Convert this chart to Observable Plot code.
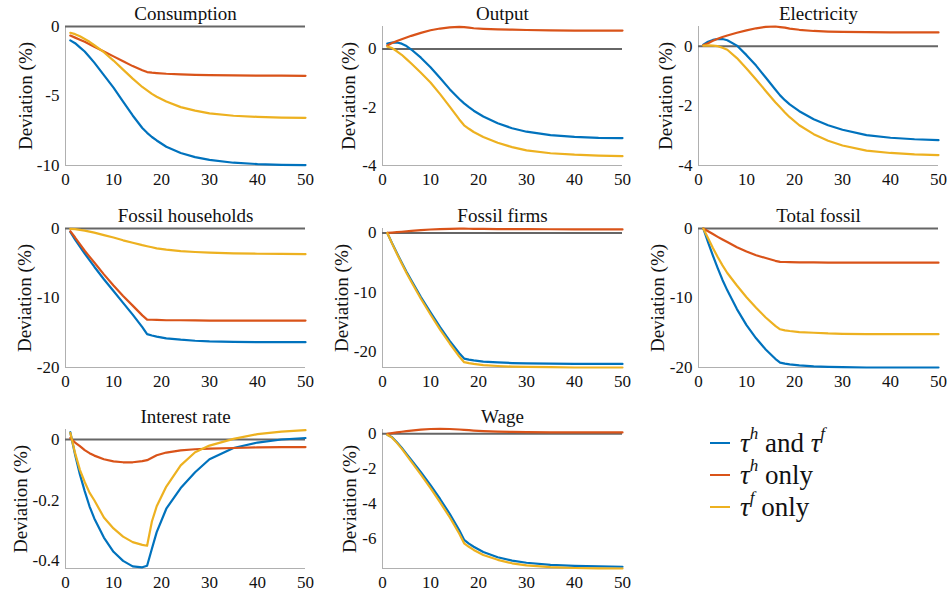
<!DOCTYPE html>
<html><head><meta charset="utf-8">
<script src="https://cdn.jsdelivr.net/npm/d3@7"></script>
<script src="https://cdn.jsdelivr.net/npm/@observablehq/plot@0.6"></script>
<style>
body{margin:0;background:#fff;}
#root{position:relative;width:950px;height:594px;overflow:hidden;font-family:"Liberation Serif","DejaVu Serif","Tinos","Noto Serif","FreeSerif","Times New Roman",serif;color:#111;}
.panel{position:absolute;}
.legend{position:absolute;left:710px;top:427px;font-family:"Liberation Serif","DejaVu Serif","Tinos","Noto Serif","FreeSerif","Times New Roman",serif;font-size:27px;color:#111;}
.legend .row{display:flex;align-items:center;height:32px;white-space:nowrap;}
.legend .sw{display:inline-block;width:20px;height:2px;margin-right:10px;}
.legend i{font-style:italic;}
.legend sup{font-size:17px;font-style:italic;position:relative;top:-3px;}
</style></head><body><div id="root"></div>
<script>
// periods
const t = [1,2,3,4,5,6,8,10,12,14,16,17,18,19,21,24,27,30,35,40,45,50];
const seriesNames = ["both","tauH","tauF"];
const seriesColors = ["#0072BD","#D95319","#EDB120"];
const panelTitles = ["Consumption","Output","Electricity","Fossil households","Fossil firms","Total fossil","Interest rate","Wage"];
const xTicks = [0,10,20,30,40,50];

const consBoth = [-1.0,-1.2,-1.5,-1.8,-2.2,-2.6,-3.5,-4.4,-5.4,-6.4,-7.3,-7.65,-7.95,-8.2,-8.65,-9.1,-9.4,-9.6,-9.8,-9.9,-9.95,-9.97];
const consTauH = [-0.65,-0.8,-0.95,-1.1,-1.27,-1.45,-1.8,-2.15,-2.5,-2.85,-3.15,-3.28,-3.32,-3.35,-3.4,-3.45,-3.48,-3.5,-3.52,-3.53,-3.54,-3.55];
const consTauF = [-0.45,-0.55,-0.7,-0.9,-1.1,-1.35,-1.85,-2.45,-3.1,-3.75,-4.35,-4.6,-4.85,-5.05,-5.4,-5.8,-6.05,-6.25,-6.42,-6.5,-6.55,-6.57];

const outBoth = [0.18,0.22,0.22,0.18,0.1,-0.02,-0.3,-0.63,-1.0,-1.38,-1.72,-1.87,-2.0,-2.12,-2.32,-2.55,-2.72,-2.84,-2.96,-3.02,-3.05,-3.06];
const outTauH = [0.12,0.2,0.27,0.33,0.39,0.45,0.55,0.64,0.7,0.74,0.76,0.75,0.73,0.71,0.69,0.67,0.66,0.65,0.64,0.63,0.63,0.63];
const outTauF = [0.08,0.03,-0.08,-0.2,-0.35,-0.5,-0.82,-1.15,-1.55,-1.98,-2.42,-2.62,-2.74,-2.85,-3.02,-3.22,-3.37,-3.48,-3.58,-3.63,-3.66,-3.68];

const elecBoth = [0.05,0.15,0.21,0.24,0.24,0.2,0.02,-0.3,-0.65,-1.05,-1.45,-1.65,-1.81,-1.95,-2.18,-2.45,-2.65,-2.8,-2.98,-3.07,-3.12,-3.15];
const elecTauH = [0.03,0.1,0.18,0.25,0.31,0.36,0.45,0.53,0.6,0.65,0.66,0.64,0.62,0.59,0.55,0.51,0.49,0.48,0.47,0.46,0.46,0.46];
const elecTauF = [0.02,0.03,0.02,0.0,-0.05,-0.12,-0.4,-0.75,-1.12,-1.5,-1.88,-2.05,-2.22,-2.38,-2.65,-2.95,-3.17,-3.33,-3.5,-3.58,-3.63,-3.65];

const fhBoth = [-0.5,-1.6,-2.6,-3.6,-4.55,-5.5,-7.3,-9.0,-10.7,-12.4,-14.2,-15.2,-15.4,-15.55,-15.8,-16.0,-16.15,-16.25,-16.3,-16.35,-16.35,-16.35];
const fhTauH = [-0.4,-1.3,-2.25,-3.2,-4.05,-4.9,-6.6,-8.2,-9.7,-11.1,-12.5,-13.1,-13.13,-13.15,-13.2,-13.2,-13.22,-13.25,-13.25,-13.25,-13.25,-13.25];
const fhTauF = [-0.05,-0.1,-0.2,-0.3,-0.45,-0.6,-0.95,-1.3,-1.7,-2.05,-2.4,-2.55,-2.7,-2.85,-3.05,-3.25,-3.38,-3.48,-3.58,-3.63,-3.66,-3.7];

const ffBoth = [0,-1.75,-3.4,-5.0,-6.55,-8.0,-10.8,-13.4,-15.9,-18.2,-20.3,-21.2,-21.37,-21.5,-21.7,-21.85,-21.95,-22.0,-22.05,-22.1,-22.1,-22.1];
const ffTauH = [0,0.06,0.13,0.2,0.28,0.35,0.48,0.58,0.65,0.7,0.72,0.72,0.71,0.7,0.68,0.66,0.64,0.63,0.62,0.61,0.6,0.6];
const ffTauF = [0,-1.8,-3.5,-5.15,-6.75,-8.25,-11.1,-13.75,-16.3,-18.65,-20.85,-21.8,-21.97,-22.1,-22.3,-22.45,-22.55,-22.6,-22.65,-22.7,-22.7,-22.7];

const tfBoth = [0,-2.0,-3.9,-5.7,-7.4,-8.9,-11.6,-13.9,-15.8,-17.4,-18.75,-19.3,-19.45,-19.55,-19.7,-19.85,-19.9,-19.95,-20.0,-20.0,-20.0,-20.0];
const tfTauH = [0,-0.4,-0.8,-1.2,-1.58,-1.95,-2.7,-3.3,-3.85,-4.25,-4.65,-4.8,-4.82,-4.83,-4.86,-4.88,-4.9,-4.9,-4.91,-4.92,-4.92,-4.92];
const tfTauF = [0,-1.4,-2.8,-4.1,-5.3,-6.4,-8.2,-9.9,-11.4,-12.8,-14.0,-14.5,-14.65,-14.75,-14.9,-15.0,-15.1,-15.15,-15.2,-15.2,-15.2,-15.2];

const irBoth = [0.024,-0.05,-0.115,-0.17,-0.22,-0.26,-0.323,-0.37,-0.4,-0.418,-0.421,-0.416,-0.36,-0.305,-0.228,-0.16,-0.108,-0.065,-0.028,-0.01,0.0,0.005];
const irTauH = [0.005,-0.01,-0.022,-0.035,-0.045,-0.053,-0.065,-0.072,-0.075,-0.075,-0.071,-0.068,-0.06,-0.052,-0.043,-0.036,-0.032,-0.03,-0.028,-0.026,-0.025,-0.025];
const irTauF = [0.022,-0.045,-0.1,-0.14,-0.175,-0.2,-0.257,-0.293,-0.32,-0.338,-0.347,-0.35,-0.27,-0.22,-0.155,-0.085,-0.042,-0.02,0.002,0.018,0.026,0.031];

const wageBoth = [-0.05,-0.2,-0.48,-0.8,-1.15,-1.5,-2.2,-2.95,-3.75,-4.6,-5.55,-6.1,-6.32,-6.5,-6.8,-7.1,-7.3,-7.42,-7.54,-7.6,-7.63,-7.65];
const wageTauH = [0,0.04,0.08,0.12,0.16,0.19,0.24,0.28,0.29,0.28,0.25,0.23,0.21,0.19,0.16,0.13,0.11,0.1,0.09,0.08,0.08,0.08];
const wageTauF = [-0.05,-0.22,-0.52,-0.85,-1.22,-1.6,-2.35,-3.12,-3.95,-4.8,-5.75,-6.3,-6.5,-6.68,-6.97,-7.25,-7.45,-7.57,-7.67,-7.72,-7.74,-7.75];

const yDomains = [[-10,0],[-4,0.77],[-4,0.66],[-20,0],[-22.7,0.75],[-20,0],[-0.425,0.033],[-7.75,0.25]];
const yTicks = [[0,-5,-10],[0,-2,-4],[0,-2,-4],[0,-10,-20],[0,-10,-20],[0,-10,-20],[0,-0.2,-0.4],[0,-2,-4,-6]];

const panelSeries = [
  [consBoth,consTauH,consTauF],
  [outBoth,outTauH,outTauF],
  [elecBoth,elecTauH,elecTauF],
  [fhBoth,fhTauH,fhTauF],
  [ffBoth,ffTauH,ffTauF],
  [tfBoth,tfTauH,tfTauF],
  [irBoth,irTauH,irTauF],
  [wageBoth,wageTauH,wageTauF]
];
const labelDist = [40,34,33,41,41,41,45,33];

const FONT = '"Liberation Serif", "DejaVu Serif", "Tinos", "Noto Serif", "FreeSerif", "Times New Roman", serif';
const root = document.getElementById("root");
const colX0 = [65,382,698];
const rowTop = [26,228,429];

panelSeries.forEach((arrs, p) => {
  const col = p % 3, row = Math.floor(p / 3);
  const data = [];
  arrs.forEach((arr, s) => arr.forEach((v, i) => data.push({t: t[i], v, s: seriesNames[s]})));
  const chart = Plot.plot({
    width: 317, height: 190,
    marginLeft: 65, marginRight: 12, marginTop: 26, marginBottom: 25,
    style: {fontFamily: FONT, fontSize: "17px", color: "#111", background: "transparent", overflow: "visible"},
    x: {domain: [0, 50], ticks: xTicks, tickSize: 0, tickPadding: 7, label: null},
    y: {domain: yDomains[p], ticks: yTicks[p], tickSize: 0, tickPadding: 6, tickFormat: d => String(d), label: null},
    color: {domain: seriesNames, range: seriesColors},
    marks: [
      Plot.ruleX([0], {stroke: "#b0b0b0", strokeWidth: 1}),
      Plot.ruleY([yDomains[p][0]], {stroke: "#b0b0b0", strokeWidth: 1}),
      Plot.ruleY([0], {stroke: "#666", strokeWidth: 2}),
      Plot.line(data, {x: "t", y: "v", stroke: "s", z: "s", strokeWidth: 2.2}),
      Plot.text([panelTitles[p]], {text: d => d, frameAnchor: "top", lineAnchor: "middle", textAnchor: "middle", dy: -13, fontSize: 19, fill: "#111"}),
      Plot.text(["Deviation (%)"], {text: d => d, frameAnchor: "left", textAnchor: "middle", lineAnchor: "middle", rotate: -90, dx: -labelDist[p], fontSize: 19, fill: "#111"})
    ]
  });
  chart.style.fontFamily = FONT;
  const div = document.createElement("div");
  div.className = "panel";
  div.style.left = (colX0[col] - 65) + "px";
  div.style.top = (rowTop[row] - 26) + "px";
  div.appendChild(chart);
  root.appendChild(div);
});

// legend
const legendLabels = [
  '<i>τ</i><sup>h</sup>&nbsp;and&nbsp;<i>τ</i><sup>f</sup>',
  '<i>τ</i><sup>h</sup>&nbsp;only',
  '<i>τ</i><sup>f</sup>&nbsp;only'
];
const leg = document.createElement("div");
leg.className = "legend";
seriesNames.forEach((s, i) => {
  const r = document.createElement("div");
  r.className = "row";
  r.innerHTML = `<span class="sw" style="background:${seriesColors[i]}"></span><span>${legendLabels[i]}</span>`;
  leg.appendChild(r);
});
root.appendChild(leg);
</script>
</body></html>
